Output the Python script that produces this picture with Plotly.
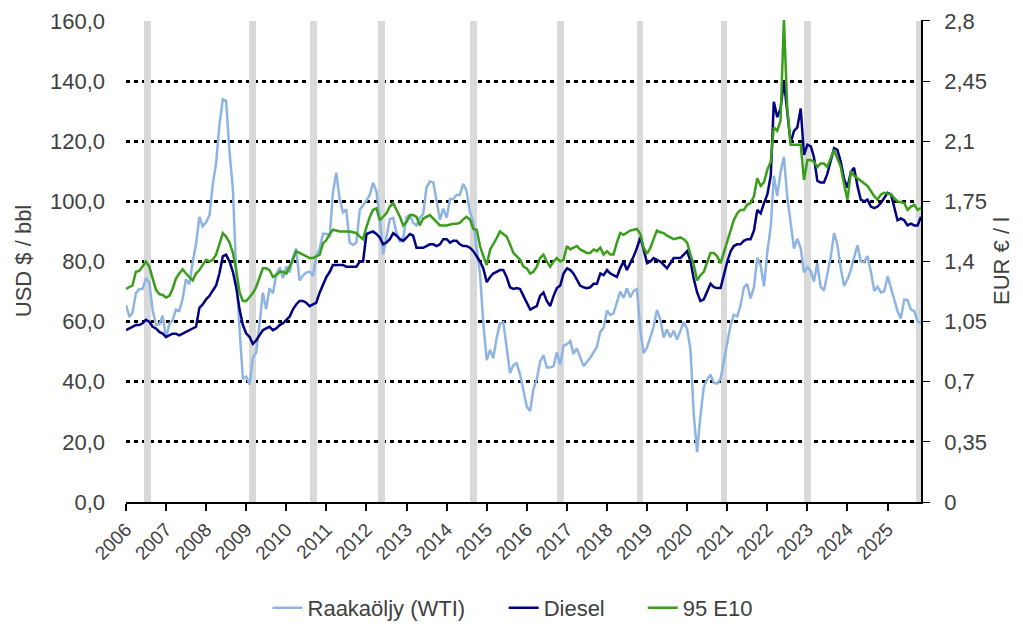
import pandas as pd
import plotly.graph_objects as go

# ---------------- data (monthly, Jan 2006 - Nov 2025) ----------------
wti_usd = [
    65.5, 61.6, 62.9, 69.4, 70.8, 70.9, 74.4, 73.0, 63.8, 58.9, 59.1, 62.0,
    54.5, 59.3, 60.4, 64.0, 63.5, 67.5, 74.1, 72.4, 79.9, 85.8, 94.8, 91.7,
    93.0, 95.4, 105.5, 112.6, 125.4, 133.9, 133.4, 116.7, 104.1, 76.6, 57.3, 41.1,
    41.7, 39.1, 47.9, 49.7, 59.0, 69.6, 64.2, 71.1, 69.4, 75.7, 78.0, 74.5,
    78.3, 76.4, 81.2, 84.3, 73.7, 75.3, 76.3, 76.6, 75.2, 81.9, 84.3, 89.2,
    89.2, 88.6, 102.9, 109.5, 100.9, 96.3, 97.3, 86.3, 85.5, 86.3, 97.2, 98.6,
    100.3, 102.2, 106.2, 103.3, 94.7, 82.3, 87.9, 94.1, 94.5, 89.5, 86.5, 87.9,
    94.8, 95.3, 92.9, 92.0, 94.5, 95.8, 104.6, 106.6, 106.3, 100.5, 93.9, 97.6,
    94.6, 100.8, 100.8, 102.1, 102.2, 105.8, 103.6, 96.5, 93.2, 84.4, 75.8, 59.3,
    47.2, 50.6, 47.8, 54.5, 59.3, 59.8, 50.9, 42.9, 45.5, 46.2, 42.4, 37.2,
    31.7, 30.3, 37.5, 40.8, 46.7, 48.8, 44.7, 44.7, 45.2, 49.8, 45.7, 52.0,
    52.5, 53.5, 49.3, 51.1, 48.5, 45.2, 46.6, 48.0, 49.8, 51.6, 56.6, 57.9,
    63.7, 62.2, 62.7, 66.3, 70.0, 67.9, 71.0, 68.1, 70.2, 70.8, 57.0, 49.5,
    51.4, 55.0, 58.2, 63.9, 60.8, 54.7, 57.4, 54.8, 57.0, 54.0, 57.0, 59.9,
    57.5, 50.5, 29.2, 16.6, 28.6, 38.3, 40.7, 42.3, 39.6, 39.4, 41.0, 47.0,
    52.0, 59.0, 62.3, 61.7, 65.2, 71.4, 72.5, 67.7, 71.5, 81.2, 78.7, 71.7,
    83.2, 91.6, 108.5, 101.8, 109.6, 114.8, 101.6, 93.7, 84.3, 87.6, 84.4, 76.4,
    78.1, 76.8, 73.3, 79.4, 71.6, 70.3, 76.1, 81.4, 89.4, 85.6, 77.7, 71.9,
    74.1, 77.2, 81.3, 85.4, 80.0, 79.8, 81.8, 76.7, 70.2, 71.6, 69.7, 70.1,
    75.1, 71.2, 68.2, 63.5, 61.0, 67.3, 67.2, 64.0, 63.5, 60.1, 59.5,
]

diesel_eur = [
    1.00, 1.01, 1.02, 1.03, 1.03, 1.04, 1.06, 1.05, 1.02, 1.01, 0.99, 0.98,
    0.96, 0.97, 0.98, 0.98, 0.97, 0.98, 0.99, 1.00, 1.01, 1.02, 1.13, 1.15,
    1.18, 1.20, 1.23, 1.26, 1.33, 1.43, 1.44, 1.40, 1.34, 1.25, 1.12, 1.03,
    0.98, 0.96, 0.92, 0.94, 0.97, 1.00, 1.01, 1.02, 1.00, 1.01, 1.03, 1.04,
    1.06, 1.08, 1.12, 1.15, 1.17, 1.17, 1.16, 1.14, 1.15, 1.16, 1.22, 1.27,
    1.31, 1.34, 1.38, 1.38, 1.38, 1.38, 1.37, 1.37, 1.37, 1.37, 1.40, 1.40,
    1.56, 1.57, 1.575, 1.56, 1.54, 1.50, 1.51, 1.53, 1.565, 1.55, 1.53, 1.52,
    1.54, 1.56, 1.55, 1.48, 1.48, 1.48, 1.49, 1.50, 1.50, 1.49, 1.50, 1.53,
    1.53, 1.51, 1.52, 1.52, 1.50, 1.49, 1.49, 1.48, 1.46, 1.43, 1.40, 1.36,
    1.28, 1.31, 1.33, 1.34, 1.35, 1.35, 1.31, 1.25, 1.24, 1.245, 1.24, 1.20,
    1.16, 1.12, 1.13, 1.14, 1.20, 1.22, 1.17, 1.14, 1.20, 1.245, 1.26, 1.33,
    1.36, 1.35, 1.33, 1.29, 1.26, 1.25, 1.245, 1.25, 1.27, 1.27, 1.33, 1.32,
    1.35, 1.33, 1.32, 1.31, 1.36, 1.40, 1.35, 1.39, 1.43, 1.48, 1.54, 1.47,
    1.39, 1.40, 1.42, 1.41, 1.40, 1.38, 1.36, 1.39, 1.42, 1.42, 1.42, 1.44,
    1.46, 1.40, 1.30, 1.22, 1.17, 1.18, 1.22, 1.27, 1.25, 1.245, 1.245, 1.33,
    1.40, 1.46, 1.49, 1.50, 1.50, 1.52, 1.53, 1.53, 1.58, 1.70, 1.68, 1.74,
    1.79, 1.90, 2.33, 2.24, 2.29, 2.45, 2.29, 2.09, 2.16, 2.18, 2.29, 2.02,
    2.08, 2.07, 2.01, 1.87, 1.86, 1.86, 1.91, 1.99, 2.06, 2.05, 1.98, 1.88,
    1.83, 1.92, 1.945, 1.84, 1.76, 1.75, 1.76, 1.72, 1.71, 1.72, 1.74, 1.77,
    1.80, 1.79, 1.72, 1.64, 1.65, 1.64, 1.61, 1.62, 1.61, 1.61, 1.66,
]

e10_eur = [
    1.24, 1.25, 1.26, 1.34, 1.345, 1.37, 1.40, 1.37, 1.30, 1.235, 1.21, 1.205,
    1.19, 1.20, 1.24, 1.30, 1.33, 1.355, 1.33, 1.31, 1.29, 1.33, 1.35, 1.38,
    1.41, 1.40, 1.41, 1.44, 1.50, 1.565, 1.545, 1.51, 1.45, 1.35, 1.22, 1.17,
    1.17, 1.195, 1.215, 1.25, 1.30, 1.36, 1.36, 1.35, 1.31, 1.32, 1.34, 1.34,
    1.33, 1.37, 1.41, 1.46, 1.45, 1.44, 1.43, 1.42, 1.42, 1.43, 1.44, 1.505,
    1.525, 1.56, 1.585, 1.58, 1.575, 1.575, 1.575, 1.575, 1.57, 1.565, 1.545, 1.53,
    1.60, 1.66, 1.70, 1.71, 1.64, 1.66, 1.68, 1.72, 1.74, 1.70, 1.66, 1.61,
    1.63, 1.67, 1.67, 1.66, 1.61, 1.65, 1.66, 1.67, 1.65, 1.63, 1.61, 1.61,
    1.61, 1.615, 1.62, 1.62, 1.625, 1.645, 1.66, 1.645, 1.59, 1.585, 1.49, 1.43,
    1.38, 1.47, 1.50, 1.535, 1.575, 1.56, 1.545, 1.50, 1.45, 1.43, 1.41, 1.37,
    1.36, 1.33, 1.34, 1.37, 1.42, 1.44, 1.40, 1.37, 1.40, 1.42, 1.40, 1.41,
    1.49, 1.47, 1.48, 1.49, 1.47, 1.46, 1.45, 1.45, 1.47, 1.46, 1.48, 1.44,
    1.46, 1.44, 1.44, 1.51, 1.565, 1.555, 1.57, 1.58, 1.585, 1.59, 1.56, 1.48,
    1.445, 1.48, 1.53, 1.58, 1.57, 1.565, 1.55, 1.54, 1.53, 1.535, 1.54, 1.53,
    1.51, 1.44, 1.38, 1.29, 1.32, 1.34, 1.40, 1.45, 1.45, 1.43, 1.39, 1.45,
    1.52, 1.58, 1.64, 1.68, 1.70, 1.70, 1.73, 1.74, 1.78, 1.885, 1.84, 1.86,
    1.935, 1.98, 2.18, 2.16, 2.22, 2.81, 2.30, 2.08, 2.08, 2.08, 2.08, 1.875,
    1.99, 1.99, 1.98, 1.95, 1.97, 1.97, 1.95, 2.00, 2.05, 2.00, 1.95, 1.85,
    1.76, 1.925, 1.90, 1.885, 1.87, 1.855, 1.84, 1.81, 1.78, 1.76, 1.79, 1.80,
    1.795, 1.79, 1.77, 1.75, 1.745, 1.74, 1.70, 1.72, 1.73, 1.70, 1.71,
]

band_dates = ["2006-07-15", "2009-03-01", "2010-09-05", "2012-05-15", "2014-09-01",
              "2016-11-05", "2018-10-30", "2020-12-01", "2023-01-01", "2025-10-20"]
band_height = [160] * len(band_dates)

year_ticks = [str(y) for y in range(2006, 2026)]
left_ticks = [0, 20, 40, 60, 80, 100, 120, 140, 160]
right_ticks = [0, 0.35, 0.7, 1.05, 1.4, 1.75, 2.1, 2.45, 2.8]
right_ticktext = ["0", "0,35", "0,7", "1,05", "1,4", "1,75", "2,1", "2,45", "2,8"]

series_names = ["Raakaöljy (WTI)", "Diesel", "95 E10"]

# ---------------- figure ----------------
dates = pd.date_range("2006-01-01", periods=len(wti_usd), freq="MS")
FONT = "'Liberation Sans', Arial, sans-serif"
TXT = "#404040"

top_pad = 1.002
y1_range = [0, left_ticks[-1] * top_pad]
y2_range = [0, right_ticks[-1] * top_pad]

fig = go.Figure()
fig.add_trace(go.Bar(
    x=band_dates, y=band_height, width=[60 * 86400000] * len(band_dates),
    marker=dict(color="#d9d9d9", line=dict(width=0)),
    showlegend=False, hoverinfo="skip", yaxis="y"))

fig.add_trace(go.Scatter(x=dates, y=wti_usd, name=series_names[0], mode="lines",
                         line=dict(color="#8db4e2", width=2.5), yaxis="y",
                         legend="legend"))
fig.add_trace(go.Scatter(x=dates, y=diesel_eur, name=series_names[1], mode="lines",
                         line=dict(color="#000080", width=2.5), yaxis="y2",
                         legend="legend2"))
fig.add_trace(go.Scatter(x=dates, y=e10_eur, name=series_names[2], mode="lines",
                         line=dict(color="#3a9e1a", width=2.5), yaxis="y2",
                         legend="legend3"))

leg_common = dict(orientation="h", y=-0.22, yanchor="middle", xanchor="left",
                  font=dict(size=22, color=TXT), bgcolor="rgba(0,0,0,0)")

fig.update_layout(
    width=1023, height=628,
    margin=dict(l=126, r=102, t=20, b=126, autoexpand=False),
    paper_bgcolor="white", plot_bgcolor="white",
    separators=", ",
    font=dict(family=FONT, size=22, color=TXT),
    bargap=0,
    xaxis=dict(
        type="date", range=["2006-01-01", "2025-11-01"], automargin=False,
        tickvals=[f"{y}-01-01" for y in year_ticks], ticktext=year_ticks,
        tickangle=-45, ticks="outside", ticklen=7, tickwidth=1.5, tickcolor="black",
        showline=True, linecolor="black", linewidth=2, showgrid=False, zeroline=False,
        tickfont=dict(size=19, color=TXT), ticklabeloverflow="allow",
    ),
    yaxis=dict(
        range=y1_range, tickvals=left_ticks, tickformat=".1f", automargin=False,
        showgrid=True, gridcolor="black", gridwidth=3, griddash="4px,4px",
        showline=False, zeroline=False, ticks="", ticklabelstandoff=20,
        ticklabeloverflow="allow",
        title=dict(text="USD $ / bbl", font=dict(size=22, color=TXT), standoff=12),
        tickfont=dict(size=22, color=TXT),
    ),
    yaxis2=dict(
        range=y2_range, overlaying="y", side="right", automargin=False,
        tickvals=right_ticks, ticktext=right_ticktext,
        showgrid=False, zeroline=False,
        showline=True, linecolor="black", linewidth=1.5,
        ticks="outside", ticklen=7, tickcolor="black", ticklabelstandoff=10,
        ticklabeloverflow="allow",
        title=dict(text="EUR € / l", font=dict(size=22, color=TXT), standoff=8),
        tickfont=dict(size=22, color=TXT),
    ),
    legend=dict(x=0.178, **leg_common),
    legend2=dict(x=0.475, **leg_common),
    legend3=dict(x=0.650, **leg_common),
)

fig.write_html("out.html", config={"displayModeBar": False},
               post_script="document.body.style.margin='0';")
